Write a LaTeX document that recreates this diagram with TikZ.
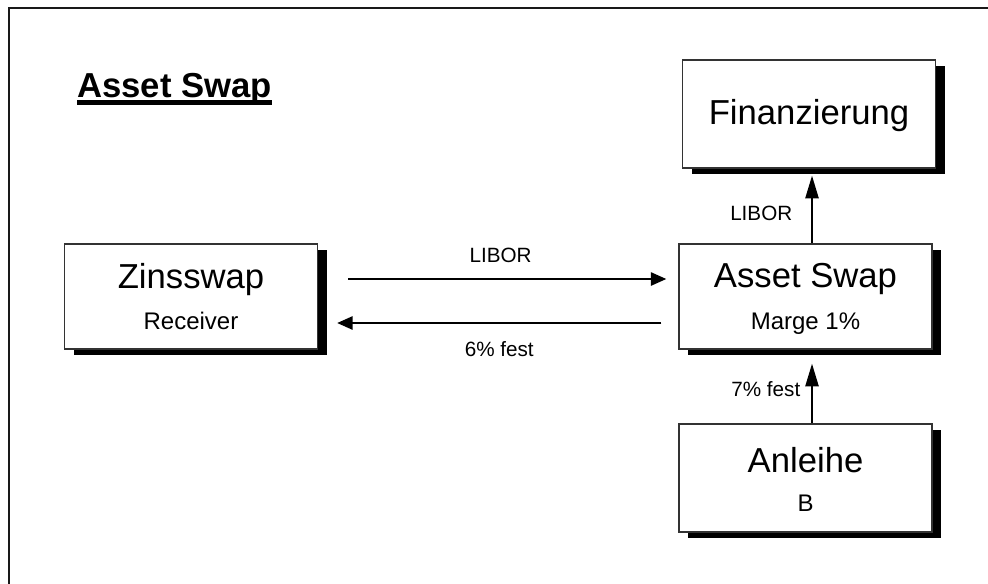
\documentclass[tikz,border=0pt]{standalone}
\usepackage{fontspec}
\setmainfont{Liberation Sans}
\usetikzlibrary{shadows,arrows.meta,calc}

\begin{document}
\begin{tikzpicture}[x=0.75pt,y=-0.75pt,
box/.style={draw=black!80, line width=1.1pt, fill=white, minimum width=189.75pt, minimum height=78.75pt,
  drop shadow={shadow xshift=6.75pt, shadow yshift=-4.5pt, fill=black, opacity=1}},
big/.style={font=\fontsize{26}{30}\selectfont, anchor=base, inner sep=0pt},
small/.style={font=\fontsize{18}{21}\selectfont, anchor=base, inner sep=0pt},
lbl/.style={font=\fontsize{15.5}{18}\selectfont, inner sep=0pt},
flow/.style={line width=1.1pt, -{Triangle[length=11.5pt,width=10pt]}},
upflow/.style={line width=1.1pt, -{Triangle[length=17pt,width=10pt]}}
]
\useasboundingbox (0,0) rectangle (988,583);
\draw[line width=1.6pt, black!90] (9,8) rectangle (1000,600);

\node[font=\fontsize{26}{30}\selectfont\bfseries, anchor=base west, inner sep=0pt] (title) at (77,97) {Asset Swap};
\draw[line width=3.7pt] ([yshift=-3.9pt]title.base west) -- ([yshift=-3.9pt]title.base east);

\node[box] (zins) at (191,296.5) {};
\node[box] (asset) at (805.5,296.5) {};
\node[box, minimum height=81pt] (fin) at (809,114) {};
\node[box, minimum height=81pt] (anl) at (805.5,478) {};

\node[big] (zinsT) at ($(zins.north)+(0,45)$) {Zinsswap};
\node[small] (zinsS) at ($(zins.north)+(0,86)$) {Receiver};
\node[big] (assetT) at ($(asset.north)+(0,44)$) {Asset Swap};
\node[small] (assetS) at ($(asset.north)+(0,86)$) {Marge 1\%};
\node[big] (finT) at ($(fin.north)+(0,65)$) {Finanzierung};
\node[big] (anlT) at ($(anl.north)+(0,49)$) {Anleihe};
\node[small] (anlS) at ($(anl.north)+(0,88)$) {B};

\draw[flow] ($(zins.east)+(30,-17.5)$) -- node[lbl, anchor=base, xshift=-5pt, yshift=12.75pt] (liborA) {LIBOR} ($(asset.west)+(-12,-17.5)$);
\draw[flow] ($(asset.west)+(-17,26.5)$) -- node[lbl, anchor=base, yshift=-24.75pt] (festA) {6\% fest} ($(zins.east)+(19,26.5)$);
\draw[upflow] ($(asset.north)+(6.5,0)$) -- node[lbl, anchor=base east, xshift=-14.25pt, yshift=-7.9pt] (liborB) {LIBOR} ($(fin.south)+(3,7)$);
\draw[upflow] ($(anl.north)+(6.5,0)$) -- node[lbl, anchor=base east, xshift=-8.25pt, yshift=-2.6pt] (festB) {7\% fest} ($(asset.south)+(6.5,14)$);
\end{tikzpicture}
\end{document}
